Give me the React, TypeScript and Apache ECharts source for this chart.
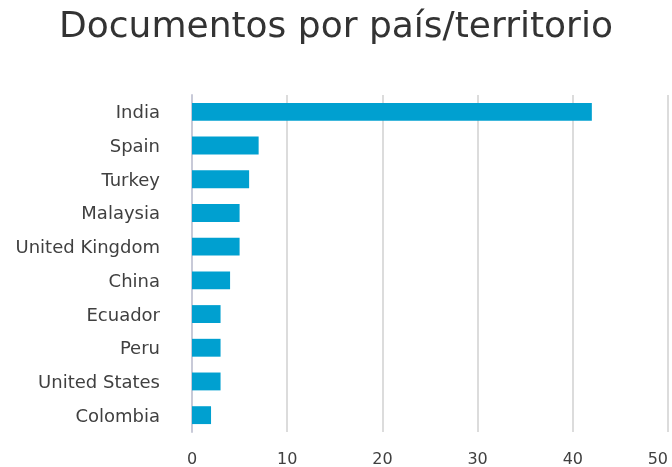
import React, { useEffect, useRef } from "react";
import * as echarts from "echarts";

const categories = ["India", "Spain", "Turkey", "Malaysia", "United Kingdom", "China", "Ecuador", "Peru", "United States", "Colombia"];
const values = [42, 7, 6, 5, 5, 4, 3, 3, 3, 2];
const xTicks = [0, 10, 20, 30, 40, 50];
const titleText = "Documentos por país/territorio";

export default function App() {
  const ref = useRef<HTMLDivElement>(null);
  useEffect(() => {
    const chart = echarts.init(ref.current!, null, { renderer: "svg" });
    chart.setOption({
      animation: false,
      title: {
        text: titleText,
        left: "center",
        top: 1,
        textStyle: { fontFamily: "DejaVu Sans", fontSize: 36, fontWeight: "normal", color: "#333333" },
      },
      grid: { left: 192, right: 4, top: 95, bottom: 35, outerBoundsMode: "none", containLabel: false },
      xAxis: {
        type: "value",
        min: xTicks[0],
        max: xTicks[xTicks.length - 1],
        interval: 10,
        axisLine: { show: false },
        axisTick: { show: false },
        splitLine: { show: true, lineStyle: { color: "#dcdcdc", width: 2 } },
        axisLabel: { fontFamily: "DejaVu Sans", fontSize: 16, color: "#404040", margin: 18, alignMaxLabel: "right" },
      },
      yAxis: {
        type: "category",
        data: categories,
        inverse: true,
        axisLine: { show: true, lineStyle: { color: "#c8cad8", width: 2 } },
        axisTick: { show: false },
        axisLabel: { fontFamily: "DejaVu Sans", fontSize: 18, color: "#404040", margin: 32 },
      },
      series: [
        {
          type: "bar",
          data: values,
          barWidth: "53%",
          itemStyle: { color: "#00a0d0" },
        },
      ],
    });
    return () => chart.dispose();
  }, []);
  return <div ref={ref} style={{ position: "fixed", left: 0, top: 0, width: 672, height: 467 }} />;
}
